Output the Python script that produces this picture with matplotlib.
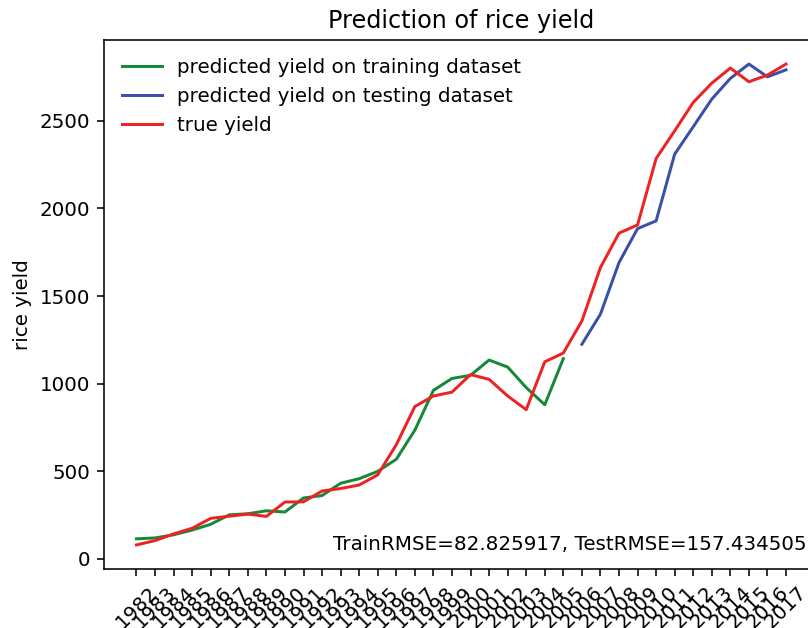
import matplotlib
matplotlib.use("Agg")
import matplotlib.pyplot as plt

years = list(range(1982, 2018))
train_years = list(range(1982, 2006))
test_years = list(range(2006, 2018))

train_pred = [115, 120, 138, 165, 198, 252, 258, 275, 268, 348, 362, 432,
              458, 500, 569, 735, 962, 1030, 1048, 1135, 1095, 978, 880, 1143]
test_pred = [1225, 1397, 1691, 1885, 1929, 2310, 2466, 2624, 2742, 2824, 2751, 2791]
true_yield = [80, 105, 143, 175, 232, 244, 256, 243, 325, 326, 388, 402,
              422, 480, 652, 870, 930, 952, 1052, 1025, 930, 852, 1125, 1175,
              1358, 1663, 1859, 1906, 2285, 2443, 2605, 2715, 2801, 2723, 2761, 2824]

train_rmse = "82.825917"
test_rmse = "157.434505"

DPI = 143
fig = plt.figure(figsize=(808 / DPI, 628 / DPI), dpi=DPI)
ax = fig.add_axes([104 / 808, (628 - 569) / 628, (818.5 - 104) / 808, (569 - 40) / 628])

ax.plot(train_years, train_pred, color="#16883a", label="predicted yield on training dataset")
ax.plot(test_years, test_pred, color="#3a4fa8", label="predicted yield on testing dataset")
ax.plot(years, true_yield, color="#ee2222", label="true yield")

ax.set_xticks(years)
ax.set_xticklabels([str(y) for y in years], rotation=45)
ax.set_yticks([0, 500, 1000, 1500, 2000, 2500])
ax.set_ylabel("rice yield")
ax.set_title("Prediction of rice yield")
ax.legend(loc="upper left", frameon=False)
ax.text(1992.6, 50, "TrainRMSE=%s, TestRMSE=%s" % (train_rmse, test_rmse))

fig.savefig("out.png", dpi=DPI)
